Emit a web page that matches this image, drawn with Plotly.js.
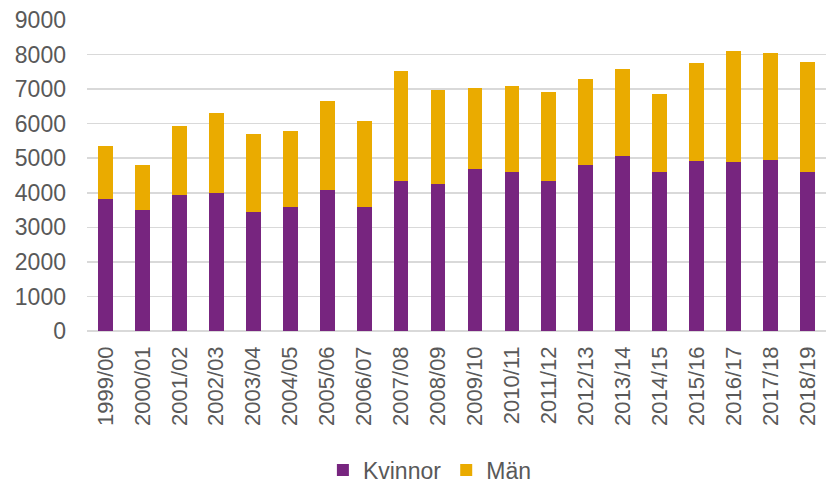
<!DOCTYPE html>
<html>
<head>
<meta charset="utf-8">
<script src="https://cdn.plot.ly/plotly-3.0.1.min.js"></script>
<style>html,body{margin:0;padding:0;background:#fff;}#chart{width:826px;height:485px;}</style>
</head>
<body>
<div id="chart"></div>
<script>
const years = ["1999/00","2000/01","2001/02","2002/03","2003/04","2004/05","2005/06","2006/07","2007/08","2008/09","2009/10","2010/11","2011/12","2012/13","2013/14","2014/15","2015/16","2016/17","2017/18","2018/19"];
const kvinnor = [3830,3510,3950,3990,3440,3580,4080,3600,4340,4240,4680,4610,4350,4810,5070,4610,4930,4900,4960,4610];
const totals = [5350,4790,5940,6300,5690,5780,6660,6080,7530,6970,7030,7080,6910,7280,7570,6860,7760,8110,8050,7780];
const man = totals.map((t, i) => t - kvinnor[i]);
const yTicks = [0,1000,2000,3000,4000,5000,6000,7000,8000,9000];

const font = {family: "Liberation Sans, Arial, sans-serif", color: "#595959"};
const data = [
  {type: "bar", name: "Kvinnor", x: years, y: kvinnor, marker: {color: "#77257F"}},
  {type: "bar", name: "Män", x: years, y: man, marker: {color: "#EAAB00"}}
];
const layout = {
  width: 826, height: 485,
  barmode: "stack", bargap: 0.6,
  margin: {l: 87, r: 0, t: 20, b: 154, autoexpand: false},
  paper_bgcolor: "#fff", plot_bgcolor: "#fff",
  font: Object.assign({size: 22}, font),
  showlegend: true,
  legend: {orientation: "h", x: 0.464, xanchor: "center", yref: "container", y: 0.031, yanchor: "middle",
           font: Object.assign({size: 23}, font), traceorder: "normal", itemwidth: 30},
  xaxis: {tickangle: -90, tickfont: Object.assign({size: 22}, font), showgrid: false,
          ticks: "", showline: false, zeroline: false, automargin: false, ticklabelstandoff: 10},
  yaxis: {range: [0, 9000], tickvals: yTicks, ticktext: yTicks.map(String), automargin: false,
          tickfont: Object.assign({size: 23}, font), gridcolor: "#d9d9d9", gridwidth: 1.5,
          zeroline: true, zerolinecolor: "#d9d9d9", zerolinewidth: 1.5, ticks: "",
          showline: false, ticklabelstandoff: 20}
};
Plotly.newPlot("chart", data, layout, {displayModeBar: false, staticPlot: true});
</script>
</body>
</html>
